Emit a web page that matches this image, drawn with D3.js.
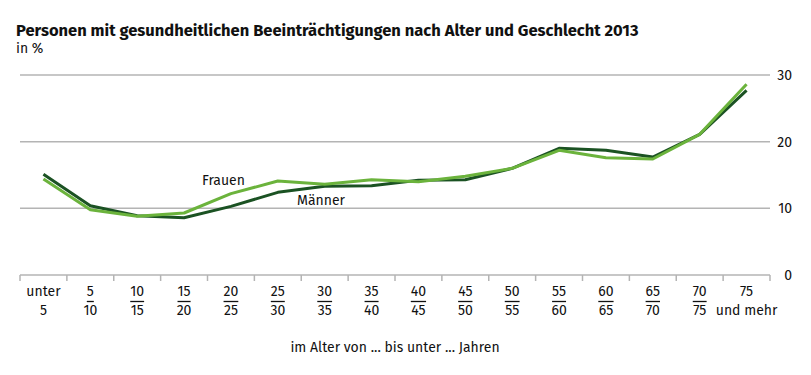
<!DOCTYPE html>
<html>
<head>
<meta charset="utf-8">
<script src="https://cdn.jsdelivr.net/npm/d3@7"></script>
<style>
  body { margin: 0; background: #fff; }
  svg { font-family: "Fira Sans", "Open Sans", "Noto Sans", sans-serif; }
</style>
</head>
<body>
<div id="chart"></div>
<script>
// Data
const ageTop = ["unter", "5", "10", "15", "20", "25", "30", "35", "40", "45", "50", "55", "60", "65", "70", "75"];
const ageBottom = ["5", "10", "15", "20", "25", "30", "35", "40", "45", "50", "55", "60", "65", "70", "75", "und mehr"];
const maenner = [15.1, 10.4, 8.9, 8.6, 10.3, 12.4, 13.3, 13.4, 14.2, 14.3, 16.0, 19.0, 18.7, 17.7, 21.1, 27.7];
const frauen = [14.4, 9.8, 8.8, 9.3, 12.2, 14.1, 13.6, 14.3, 14.0, 14.8, 16.0, 18.7, 17.6, 17.4, 21.1, 28.6];
const yTicks = [0, 10, 20, 30];

const width = 811;
const height = 375;
const margin = { left: 20, right: 41, top: 75, bottom: 100 };

const svg = d3
  .select("#chart")
  .append("svg")
  .attr("width", width)
  .attr("height", height);

const categories = ageTop.map((d, i) => i);
const xScale = d3.scaleBand().domain(categories).range([margin.left, width - margin.right]);
const yScale = d3.scaleLinear().domain([0, 30]).range([height - margin.bottom, margin.top]);

// Title
svg.append("text")
  .attr("x", 16).attr("y", 36)
  .attr("font-size", 16.5).attr("font-weight", "bold").attr("fill", "#111")
  .text("Personen mit gesundheitlichen Beeinträchtigungen nach Alter und Geschlecht 2013");
svg.append("text")
  .attr("x", 16).attr("y", 53)
  .attr("font-size", 14).attr("fill", "#111")
  .text("in %");

// Grid + y labels
const grid = svg.append("g");
grid.selectAll("line")
  .data(yTicks)
  .join("line")
  .attr("x1", margin.left)
  .attr("x2", width - margin.right)
  .attr("y1", (d) => yScale(d))
  .attr("y2", (d) => yScale(d))
  .attr("stroke", "#b4b4b4")
  .attr("stroke-width", 1.5);
grid.selectAll("text")
  .data(yTicks)
  .join("text")
  .attr("x", 792)
  .attr("y", (d) => yScale(d) + 5)
  .attr("text-anchor", "end")
  .attr("font-size", 14)
  .attr("fill", "#111")
  .text((d) => d);

// x ticks at band edges
const edges = categories.map((i) => xScale(i)).concat([width - margin.right]);
svg.append("g")
  .selectAll("line")
  .data(edges)
  .join("line")
  .attr("x1", (d) => d).attr("x2", (d) => d)
  .attr("y1", yScale(0)).attr("y2", yScale(0) + 6)
  .attr("stroke", "#b4b4b4")
  .attr("stroke-width", 1.5);

// x labels
const xLab = svg.append("g")
  .selectAll("g")
  .data(categories)
  .join("g")
  .attr("transform", (i) => `translate(${xScale(i) + xScale.bandwidth() / 2}, 0)`);
xLab.append("text")
  .attr("class", "top")
  .attr("y", 296)
  .attr("text-anchor", "middle")
  .attr("font-size", 14)
  .attr("fill", "#111")
  .text((i) => ageTop[i]);
xLab.append("text")
  .attr("y", 315)
  .attr("text-anchor", "middle")
  .attr("font-size", 14)
  .attr("fill", "#111")
  .text((i) => ageBottom[i]);
xLab.filter((i) => i > 0 && i < categories.length - 1).each(function () {
  const g = d3.select(this);
  const w = g.select("text.top").node().getComputedTextLength();
  g.append("line")
    .attr("x1", -w / 2).attr("x2", w / 2)
    .attr("y1", 301.5).attr("y2", 301.5)
    .attr("stroke", "#111").attr("stroke-width", 1.3);
});

svg.append("text")
  .attr("x", 395).attr("y", 352)
  .attr("text-anchor", "middle")
  .attr("font-size", 14)
  .attr("fill", "#111")
  .text("im Alter von ... bis unter ... Jahren");

// Lines
const line = d3.line()
  .x((d, i) => xScale(i) + xScale.bandwidth() / 2)
  .y((d) => yScale(d));

const series = [
  { label: "Männer", values: maenner, color: "#1b5223" },
  { label: "Frauen", values: frauen, color: "#6bb33c" },
];
svg.append("g")
  .selectAll("path")
  .data(series, (d) => d.label)
  .join("path")
  .attr("fill", "none")
  .attr("stroke", (d) => d.color)
  .attr("stroke-width", 3)
  .attr("stroke-linejoin", "round")
  .attr("d", (d) => line(d.values));

// Series labels
svg.append("text")
  .attr("x", 202).attr("y", 185)
  .attr("font-size", 14).attr("fill", "#111")
  .text("Frauen");
svg.append("text")
  .attr("x", 297).attr("y", 205)
  .attr("font-size", 14).attr("fill", "#111")
  .text("Männer");
</script>
</body>
</html>
